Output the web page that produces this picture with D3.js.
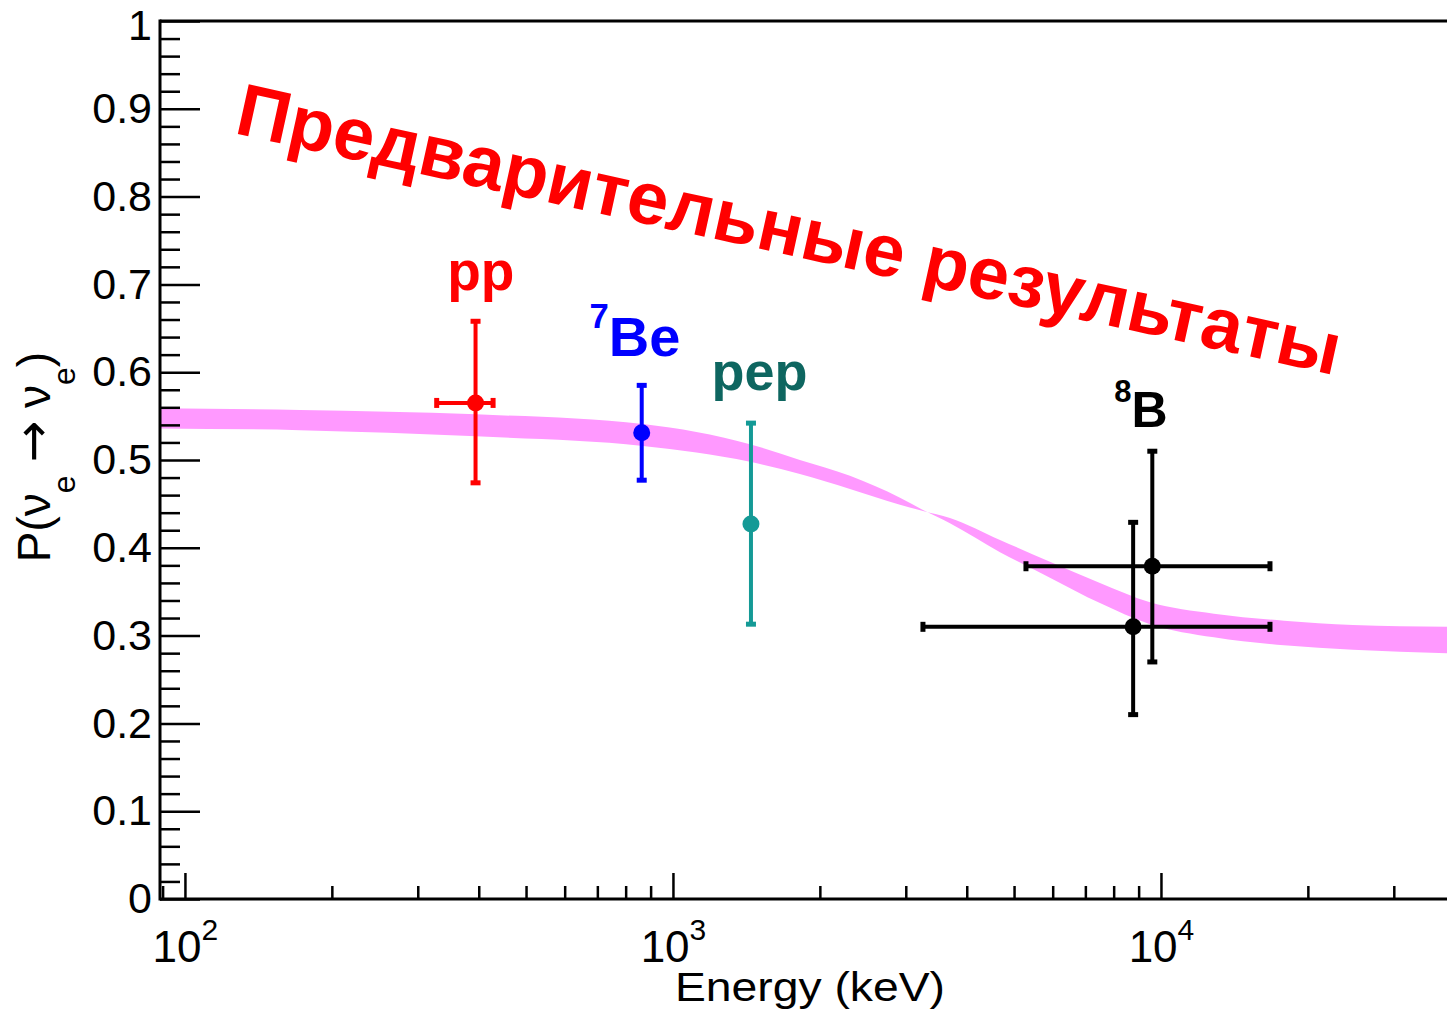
<!DOCTYPE html>
<html>
<head>
<meta charset="utf-8">
<script src="https://cdn.jsdelivr.net/npm/d3@7"></script>
<style>
  body { margin: 0; background: #fff; }
  text { font-family: "Liberation Sans", Arial, sans-serif; }
</style>
</head>
<body>
<script>
// band of the predicted survival probability (two edge curves that cross near 3 MeV)
const bandEnergy = [89, 172, 395, 868, 1438, 1820, 2305, 2919, 3254, 3695, 4679, 5923, 7499, 9495, 12840, 17870, 24740, 38560];
const bandEdgeA = [0.559, 0.557, 0.552, 0.541, 0.518, 0.500, 0.482, 0.457, 0.443, 0.428, 0.395, 0.366, 0.337, 0.313, 0.298, 0.289, 0.284, 0.280];
const bandEdgeB = [0.536, 0.534, 0.527, 0.516, 0.498, 0.484, 0.467, 0.449, 0.442, 0.434, 0.409, 0.384, 0.360, 0.338, 0.325, 0.317, 0.312, 0.310];

// measured points
const pointSource = ['pp', '7Be', 'pep', '8B', '8B'];
const pointEnergy = [394, 863, 1445, 8770, 9600];
const pointProb = [0.565, 0.531, 0.427, 0.310, 0.379];
const probLow = [0.474, 0.477, 0.313, 0.210, 0.270];
const probHigh = [0.658, 0.585, 0.542, 0.429, 0.510];
const energyLow = [328, null, null, 3253, 5289];
const energyHigh = [428, null, null, 16726, 16726];

// source labels (placed in data units)
const labelSource = ['pp', '7Be', 'pep', '8B'];
const labelSup = ['', '7', '', '8'];
const labelBase = ['pp', 'Be', 'pep', 'B'];
const labelEnergy = [404, 836, 1504, 9100];
const labelProb = [0.6936, 0.6185, 0.5797, 0.5376];

const xMajorTicks = [100, 1000, 10000];
const xMinorTicks = [90, 200, 300, 400, 500, 600, 700, 800, 900,
  2000, 3000, 4000, 5000, 6000, 7000, 8000, 9000, 20000, 30000];
const yMajorTicks = d3.range(11).map(i => i / 10);
const yMinorTicks = d3.range(51).map(i => i / 50).filter(v => Math.round(v * 50) % 5 != 0);

const color = {pp: '#ff0000', '7Be': '#0000ff', pep: '#149a96', '8B': '#000000'};
const labelColor = {pp: '#ff0000', '7Be': '#0000ff', pep: '#0e6660', '8B': '#000000'};
const labelSize = {pp: 55, '7Be': 56, pep: 54, '8B': 50};

const width = 1447;
const height = 1014;
const margin = {left: 160, top: 21, right: 0, bottom: 115};

var svg = d3.select('body')
    .append('svg')
    .attr('width', width)
    .attr('height', height);

svg.append('rect').attr('width', width).attr('height', height).attr('fill', '#fff');

var x = d3.scaleLog()
    .domain([88.9, 38560])
    .range([margin.left, width - margin.right]);

var y = d3.scaleLinear()
    .domain([0, 1])
    .range([height - margin.bottom, margin.top]);

svg.append('clipPath').attr('id', 'plotClip')
  .append('rect')
    .attr('x', margin.left)
    .attr('y', margin.top)
    .attr('width', width - margin.left - margin.right)
    .attr('height', height - margin.top - margin.bottom);

// band
var band = bandEnergy.map((e, i) => ({e: e, a: bandEdgeA[i], b: bandEdgeB[i]}));
var area = d3.area()
    .x(d => x(d.e))
    .y0(d => y(d.a))
    .y1(d => y(d.b))
    .curve(d3.curveMonotoneX);

svg.append('path')
    .datum(band)
    .attr('clip-path', 'url(#plotClip)')
    .attr('fill', '#ff99ff')
    .attr('d', area);

// axes
function styleAxis(g) {
  g.select('.domain').remove();
  g.selectAll('.tick line').attr('stroke', '#000').attr('stroke-width', 2.5);
  g.attr('font-family', '"Liberation Sans", Arial, sans-serif').attr('font-size', 43);
  g.selectAll('.tick text').attr('fill', '#000');
}

svg.append('g')
    .attr('transform', `translate(${margin.left},0)`)
    .call(d3.axisLeft(y).tickValues(yMinorTicks).tickSize(-20).tickFormat(''))
    .call(styleAxis);

svg.append('g')
    .attr('transform', `translate(${margin.left},0)`)
    .call(d3.axisLeft(y).tickValues(yMajorTicks).tickSize(-40).tickPadding(8).tickFormat(d3.format('')))
    .call(styleAxis)
    .call(g => g.selectAll('.tick text').filter(d => d == 1).attr('dy', '0.44em'));

var x0 = height - margin.bottom;

svg.append('g')
    .attr('transform', `translate(0,${x0})`)
    .call(d3.axisBottom(x).tickValues(xMinorTicks).tickSize(-13).tickFormat(''))
    .call(styleAxis);

svg.append('g')
    .attr('transform', `translate(0,${x0})`)
    .call(d3.axisBottom(x).tickValues(xMajorTicks).tickSize(-26).tickFormat(''))
    .call(styleAxis)
    .call(g => g.selectAll('.tick text').each(function(d) {
      var t = d3.select(this).attr('y', 63).attr('dy', null);
      t.append('tspan').attr('font-size', 44).text('10');
      t.append('tspan').attr('font-size', 30).attr('dy', -22).text(Math.round(Math.log10(d)));
    }));

// frame lines
svg.append('line')
    .attr('x1', margin.left).attr('x2', margin.left)
    .attr('y1', y(0) + 1.5).attr('y2', y(1) - 1.5)
    .attr('stroke', '#000').attr('stroke-width', 3);
svg.append('line')
    .attr('x1', margin.left).attr('x2', width)
    .attr('y1', y(0)).attr('y2', y(0))
    .attr('stroke', '#000').attr('stroke-width', 3);
svg.append('line')
    .attr('x1', margin.left).attr('x2', width)
    .attr('y1', y(1)).attr('y2', y(1))
    .attr('stroke', '#000').attr('stroke-width', 3);

// axis titles
svg.append('text')
    .attr('x', 810)
    .attr('y', 1001)
    .attr('text-anchor', 'middle')
    .attr('font-size', 41)
    .attr('textLength', 270)
    .attr('lengthAdjust', 'spacingAndGlyphs')
    .attr('fill', '#000')
    .text('Energy (keV)');

var yTitle = svg.append('text')
    .attr('transform', 'translate(50,457) rotate(-90)')
    .attr('text-anchor', 'middle')
    .attr('font-size', 46)
    .attr('fill', '#000');
yTitle.append('tspan').text('P(ν');
yTitle.append('tspan').attr('font-size', 32).attr('dy', 25).text('e');
yTitle.append('tspan').attr('dy', -25).text(' ');
yTitle.append('tspan').attr('font-family', '"DejaVu Sans", sans-serif').attr('font-size', 50).text('→');
yTitle.append('tspan').text(' ν');
yTitle.append('tspan').attr('font-size', 32).attr('dy', 25).text('e');
yTitle.append('tspan').attr('dy', -25).text(')');

// error bars and points
var points = pointSource.map((s, i) => ({
  s: s, e: pointEnergy[i], p: pointProb[i],
  lo: probLow[i], hi: probHigh[i], eLo: energyLow[i], eHi: energyHigh[i]
}));

var pg = svg.append('g').attr('clip-path', 'url(#plotClip)');

points.forEach(d => {
  var c = color[d.s];
  var g = pg.append('g').attr('stroke', c).attr('fill', c);
  g.append('line')
      .attr('x1', x(d.e)).attr('x2', x(d.e))
      .attr('y1', y(d.lo)).attr('y2', y(d.hi))
      .attr('stroke-width', 4);
  [d.lo, d.hi].forEach(v => {
    g.append('line')
        .attr('x1', x(d.e) - 5).attr('x2', x(d.e) + 5)
        .attr('y1', y(v)).attr('y2', y(v))
        .attr('stroke-width', 5);
  });
  if (d.eLo != null) {
    g.append('line')
        .attr('x1', x(d.eLo)).attr('x2', x(d.eHi))
        .attr('y1', y(d.p)).attr('y2', y(d.p))
        .attr('stroke-width', 4);
    [d.eLo, d.eHi].forEach(v => {
      g.append('line')
          .attr('x1', x(v)).attr('x2', x(v))
          .attr('y1', y(d.p) - 5).attr('y2', y(d.p) + 5)
          .attr('stroke-width', 5);
    });
  }
  g.append('circle')
      .attr('cx', x(d.e))
      .attr('cy', y(d.p))
      .attr('r', 8.5)
      .attr('stroke', 'none');
});

// source labels
labelSource.forEach((s, i) => {
  var size = labelSize[s];
  var t = svg.append('text')
      .attr('x', x(labelEnergy[i]))
      .attr('y', y(labelProb[i]))
      .attr('text-anchor', 'middle')
      .attr('font-weight', 'bold')
      .attr('font-size', size)
      .attr('fill', labelColor[s]);
  if (labelSup[i]) {
    t.append('tspan').attr('font-size', size * 0.62).attr('dy', -size * 0.5).text(labelSup[i]);
    t.append('tspan').attr('dy', size * 0.5).text(labelBase[i]);
  } else {
    t.text(labelBase[i]);
  }
});

// watermark
svg.append('text')
    .attr('transform', 'translate(233,133) rotate(12.4)')
    .attr('font-size', 74)
    .attr('font-weight', 'bold')
    .attr('fill', '#ff0000')
    .attr('textLength', 1128)
    .attr('lengthAdjust', 'spacingAndGlyphs')
    .text('Предварительные результаты');
</script>
</body>
</html>
